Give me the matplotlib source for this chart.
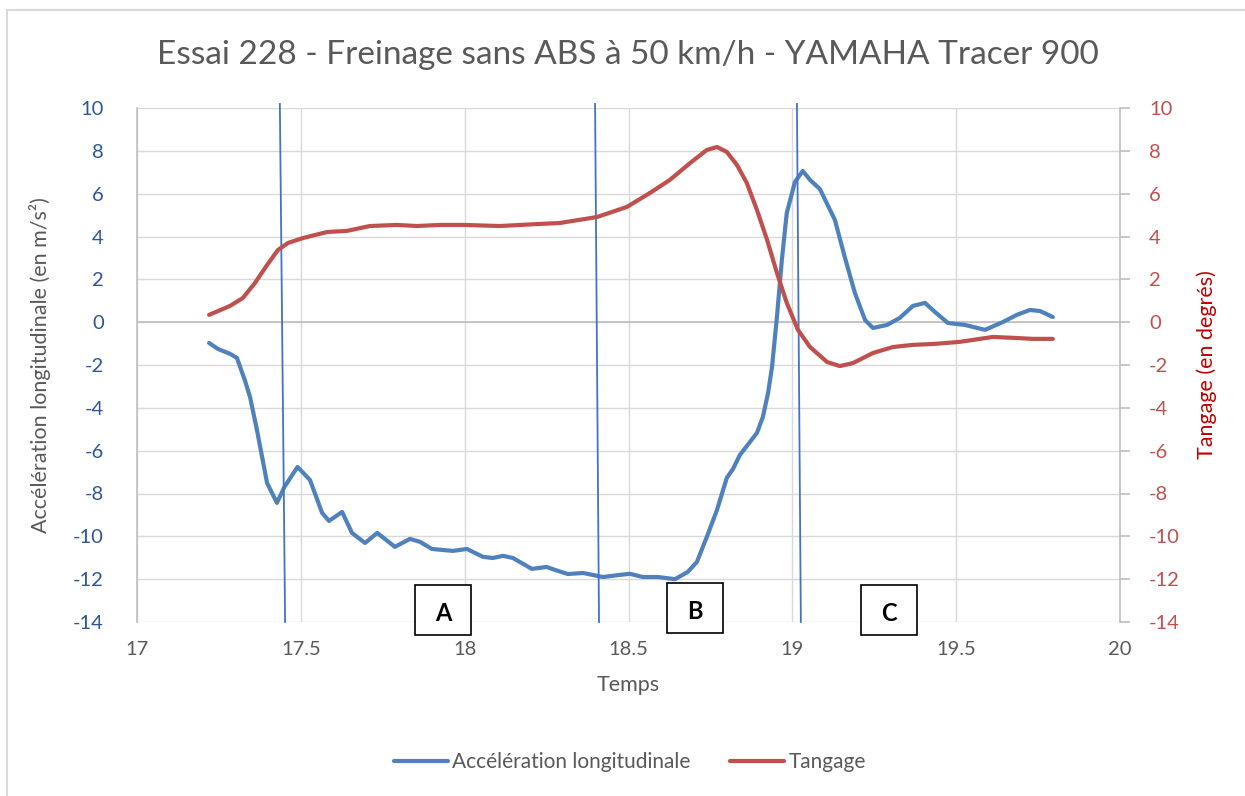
import matplotlib.pyplot as plt
from matplotlib.patches import Rectangle
from matplotlib.lines import Line2D

plt.rcParams['font.family'] = ['Lato', 'DejaVu Sans']
plt.rcParams['axes.unicode_minus'] = False

# Accélération longitudinale (m/s²)
acc_t = [17.22, 17.247, 17.284, 17.305, 17.33, 17.345, 17.366, 17.397, 17.427, 17.45,
         17.49, 17.528, 17.565, 17.586, 17.626, 17.656, 17.696, 17.733, 17.787, 17.833,
         17.864, 17.90, 17.964, 18.007, 18.056, 18.086, 18.117, 18.147, 18.205, 18.25,
         18.276, 18.315, 18.361, 18.422, 18.474, 18.504, 18.544, 18.59, 18.642, 18.681,
         18.709, 18.739, 18.77, 18.80, 18.819, 18.84, 18.892, 18.91, 18.926, 18.938,
         18.953, 18.968, 18.983, 19.008, 19.032, 19.054, 19.084, 19.13, 19.16, 19.191,
         19.222, 19.246, 19.289, 19.328, 19.368, 19.405, 19.435, 19.475, 19.527, 19.588,
         19.643, 19.685, 19.725, 19.756, 19.795]
acc = [-0.97, -1.25, -1.48, -1.67, -2.75, -3.5, -5.03, -7.51, -8.44, -7.69,
       -6.76, -7.37, -8.91, -9.28, -8.86, -9.84, -10.31, -9.84, -10.49, -10.12,
       -10.26, -10.59, -10.68, -10.59, -10.96, -11.01, -10.91, -11.01, -11.52, -11.43,
       -11.57, -11.76, -11.71, -11.90, -11.80, -11.75, -11.90, -11.90, -12.0, -11.66,
       -11.19, -10.03, -8.77, -7.27, -6.85, -6.20, -5.17, -4.43, -3.3, -2.09,
       0.24, 2.90, 5.10, 6.55, 7.06, 6.64, 6.22, 4.77, 3.04, 1.36,
       0.10, -0.27, -0.13, 0.20, 0.76, 0.90, 0.48, -0.04, -0.13, -0.36,
       0.01, 0.34, 0.57, 0.52, 0.24]

# Tangage (degrés)
tan_t = [17.22, 17.284, 17.323, 17.36, 17.397, 17.43, 17.461, 17.507, 17.58, 17.64,
         17.711, 17.793, 17.854, 17.925, 17.995, 18.108, 18.22, 18.29, 18.404, 18.495,
         18.565, 18.626, 18.688, 18.739, 18.77, 18.80, 18.831, 18.861, 18.892, 18.923,
         18.953, 18.983, 19.017, 19.054, 19.106, 19.145, 19.185, 19.246, 19.307, 19.368,
         19.429, 19.511, 19.612, 19.685, 19.734, 19.795]
tangage = [0.34, 0.76, 1.13, 1.83, 2.67, 3.37, 3.70, 3.93, 4.21, 4.26,
           4.49, 4.54, 4.49, 4.54, 4.54, 4.49, 4.58, 4.63, 4.91, 5.38,
           6.03, 6.64, 7.43, 8.04, 8.18, 7.95, 7.34, 6.50, 5.24, 3.84,
           2.30, 0.90, -0.36, -1.16, -1.86, -2.05, -1.91, -1.44, -1.16, -1.06,
           -1.02, -0.92, -0.69, -0.74, -0.78, -0.78]

# phase markers (slightly slanted lines) and phase boxes
marker_top = [17.436, 18.398, 19.014]
marker_bottom = [17.452, 18.410, 19.026]
phase_labels = ['A', 'B', 'C']
phase_x = [17.934, 18.702, 19.295]
phase_y = [-13.43, -13.35, -13.43]

blue = '#4F81BD'
red = '#C0504D'
grey = '#595959'
grid = '#D9D9D9'
axis_grey = '#BFBFBF'

fig = plt.figure(figsize=(12.45, 7.96), dpi=100)
ax = fig.add_axes([137 / 1245, 1 - 622 / 796, (1120 - 137) / 1245, (622 - 108) / 796])
ax2 = ax.twinx()

# chart area border (left and top edges visible)
fig.add_artist(Line2D([7 / 1245, 7 / 1245], [0, 1 - 10 / 796], color=grid, lw=1.5))
fig.add_artist(Line2D([7 / 1245, 1], [1 - 10 / 796, 1 - 10 / 796], color=grid, lw=1.5))

ax.set_xlim(17, 20)
ax.set_ylim(-14, 10)
ax2.set_ylim(-14, 10)
ax.set_xticks([17, 17.5, 18, 18.5, 19, 19.5, 20])
ax.set_xticklabels(['17', '17.5', '18', '18.5', '19', '19.5', '20'])
ax.set_yticks(range(-14, 11, 2))
ax2.set_yticks(range(-14, 11, 2))
ax.grid(True, color=grid, lw=1.0)
ax.set_axisbelow(True)
ax.axhline(0, color=axis_grey, lw=1.2, zorder=1)

for a in (ax, ax2):
    for s in ('top', 'bottom'):
        a.spines[s].set_visible(False)
ax.spines['left'].set_color(axis_grey)
ax.spines['right'].set_visible(False)
ax2.spines['left'].set_visible(False)
ax2.spines['right'].set_color(axis_grey)
ax2.spines['right'].set_linewidth(1.2)
ax.spines['left'].set_linewidth(1.2)

ax.tick_params(axis='x', length=0, pad=14, labelsize=14.5, labelcolor=grey)
ax.tick_params(axis='y', length=0, pad=24, labelsize=14.5, labelcolor='#2F5597')
ax2.tick_params(axis='y', length=7, width=1.2, color=axis_grey, pad=14,
                labelsize=14.5, labelcolor=red)

ax.plot(acc_t, acc, color=blue, lw=3, solid_capstyle='round',
        solid_joinstyle='round', zorder=3)
ax2.plot(tan_t, tangage, color=red, lw=3, solid_capstyle='round',
         solid_joinstyle='round', zorder=3)

for x0, x1 in zip(marker_top, marker_bottom):
    ax.plot([x0, x1], [10.19, -14], color='#4472C4', lw=1.3, clip_on=False, zorder=4)

for lab, cx, cy in zip(phase_labels, phase_x, phase_y):
    ax2.add_patch(Rectangle((cx - 0.0855, cy - 1.165), 0.171, 2.33, facecolor='white',
                            edgecolor='black', lw=1.2, clip_on=False, zorder=5))
    ax2.text(cx, cy - 0.15, lab, ha='center', va='center', fontsize=17,
             fontweight='bold', color='black', zorder=6)

ax.set_xlabel('Temps', fontsize=15.5, color=grey, labelpad=12)
ax.set_ylabel('Accélération longitudinale (en m/s²)', fontsize=15.5, color=grey, labelpad=16)
ax2.set_ylabel('Tangage (en degrés)', fontsize=15.5, color='#C00000', labelpad=12)

fig.text(0.504, 1 - 55 / 796, 'Essai 228 - Freinage sans ABS à 50 km/h - YAMAHA Tracer 900',
         ha='center', va='center', fontsize=24, color=grey)

handles = [Line2D([], [], color=blue, lw=3, solid_capstyle='round'),
           Line2D([], [], color=red, lw=3, solid_capstyle='round')]
leg = fig.legend(handles, ['Accélération longitudinale', 'Tangage'], loc='center',
                 bbox_to_anchor=(0.506, 1 - 762 / 796), ncol=2, frameon=False,
                 fontsize=15, handlelength=2.6, handletextpad=0.2, columnspacing=1.9)
for t in leg.get_texts():
    t.set_color(grey)

fig.savefig('out.png', dpi=100)
